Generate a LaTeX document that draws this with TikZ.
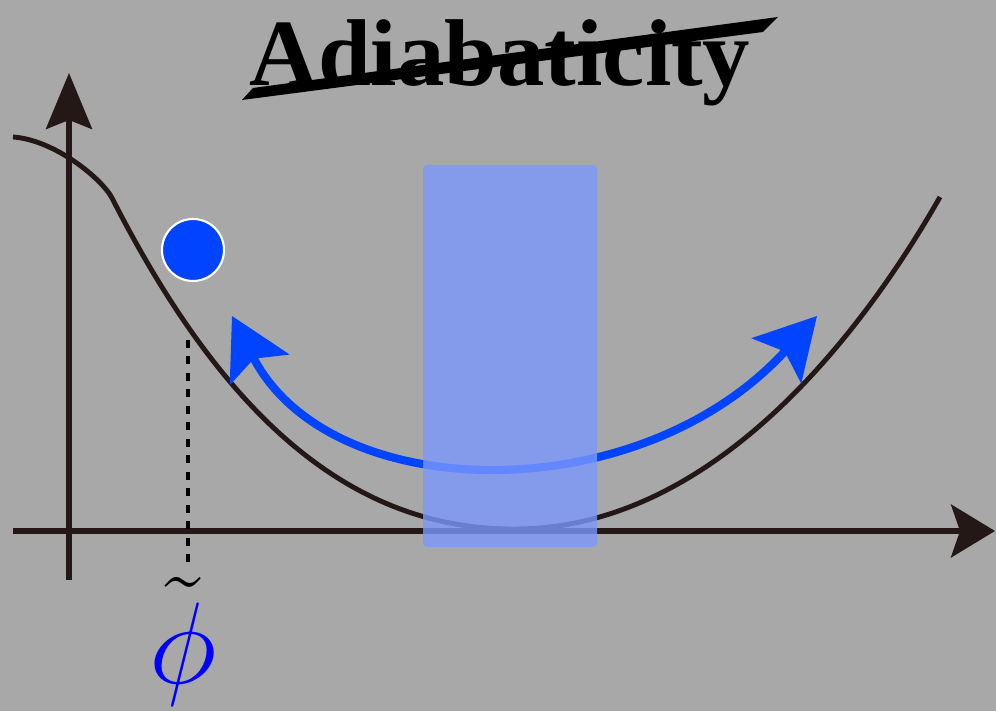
\RequirePackage{fix-cm}
\documentclass[tikz,border=0pt]{standalone}
\usepackage{fontspec}
\usepackage{amsmath}
\usetikzlibrary{arrows.meta}
\newfontfamily\titlefont{Liberation Serif}
\definecolor{bggray}{RGB}{168,168,168}
\definecolor{inkdark}{RGB}{35,24,21}
\definecolor{ballblue}{RGB}{0,68,255}
\definecolor{windowblue}{RGB}{124,152,254}

\begin{document}
\begin{tikzpicture}[line width=1.4pt,>=Stealth,
  axisline/.style={draw=inkdark,line width=1.45pt},
  potential/.style={draw=inkdark,line width=1.4pt},
  swing/.style={draw=ballblue,line width=2.3pt,
    {Stealth[length=0.6cm,width=0.66cm,inset=0.12cm]}-{Stealth[length=0.6cm,width=0.66cm,inset=0.12cm]}},
]
% 背景
\fill[bggray] (0,0) rectangle (9.96,7.11);
\useasboundingbox (0,0) rectangle (9.96,7.11);
% ---------- 坐标轴 ----------
\coordinate (xstart) at (0.13,1.80);
\coordinate (xend) at (9.95,1.80);
\coordinate (ystart) at (0.69,1.31);
\coordinate (yend) at (0.69,6.38);
\draw[axisline,-{Stealth[length=0.44cm,width=0.53cm,inset=0.09cm]}] (xstart) -- (xend);
\draw[axisline,-{Stealth[length=0.56cm,width=0.46cm,inset=0.09cm]}] (ystart) -- (yend);
% ---------- 势能曲线 ----------
\draw[potential] (0.13,5.74) .. controls (0.55,5.71) and (1.02,5.32) .. (1.12,5.13)
  .. controls (2.15,3.11) and (3.40,1.81) .. (5.15,1.82)
  .. controls (7.20,1.82) and (8.70,3.91) .. (9.40,5.14);
% ---------- 来回摆动 ----------
\coordinate (swingL) at (2.32,3.95);
\coordinate (swingR) at (8.17,3.95);
\draw[swing] (swingL) .. controls (3.30,2.04) and (6.40,2.00) .. (swingR);
% 半透明窗口
\fill[windowblue,fill opacity=0.8,rounded corners=0.04cm] (4.23,1.64) rectangle (5.97,5.46);
% 小球
\node[circle,fill=ballblue,draw=white,line width=0.6pt,minimum size=0.62cm,inner sep=0pt] (ball) at (1.93,4.61) {};
% ---------- 标记 phi ----------
\coordinate (phitop) at (1.88,3.71);
\coordinate (phibot) at (1.88,1.41);
\draw[black,line width=1.1pt,dash pattern=on 0.08cm off 0.085cm] (phitop) -- (phibot);
\node[anchor=base,font=\fontsize{33}{33}\selectfont] (philabel) at (1.83,0.27) {$\tilde{\textcolor{blue}{\phi}}$};
% ---------- 标题（划掉） ----------
\node[anchor=base,font=\titlefont\bfseries\fontsize{27}{27}\selectfont] (title) at (5.00,6.25) {Adiabaticity};
\fill (2.42,6.11) -- (2.53,6.23) -- (7.78,6.94) -- (7.63,6.79) -- cycle;
\end{tikzpicture}
\end{document}
